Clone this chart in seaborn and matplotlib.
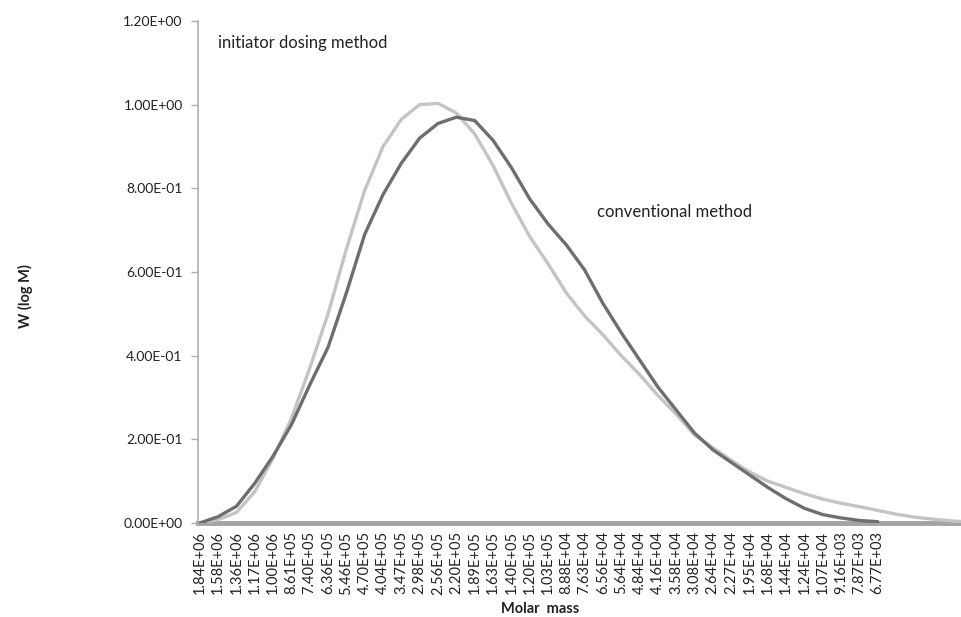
import matplotlib
matplotlib.use("Agg")
import matplotlib.pyplot as plt
import numpy as np
import pandas as pd
import seaborn as sns
from matplotlib.ticker import FuncFormatter

# category labels (molar mass, g/mol) as printed on the x axis
molar_mass = ["1.84E+06", "1.58E+06", "1.36E+06", "1.17E+06", "1.00E+06", "8.61E+05",
              "7.40E+05", "6.36E+05", "5.46E+05", "4.70E+05", "4.04E+05", "3.47E+05",
              "2.98E+05", "2.56E+05", "2.20E+05", "1.89E+05", "1.63E+05", "1.40E+05",
              "1.20E+05", "1.03E+05", "8.88E+04", "7.63E+04", "6.56E+04", "5.64E+04",
              "4.84E+04", "4.16E+04", "3.58E+04", "3.08E+04", "2.64E+04", "2.27E+04",
              "1.95E+04", "1.68E+04", "1.44E+04", "1.24E+04", "1.07E+04", "9.16E+03",
              "7.87E+03", "6.77E+03"]

conventional = [0.0, 0.015, 0.04, 0.095, 0.16, 0.235, 0.33, 0.42, 0.55, 0.69,
                0.785, 0.86, 0.92, 0.955, 0.97, 0.962, 0.915, 0.85, 0.775, 0.715,
                0.665, 0.605, 0.525, 0.455, 0.39, 0.325, 0.27, 0.215, 0.175, 0.145,
                0.115, 0.085, 0.058, 0.035, 0.02, 0.012, 0.006, 0.003]

initiator_dosing = [0.0, 0.008, 0.025, 0.075, 0.155, 0.25, 0.37, 0.50, 0.655, 0.795,
                    0.90, 0.965, 1.0, 1.003, 0.98, 0.93, 0.855, 0.765, 0.685, 0.62,
                    0.55, 0.495, 0.45, 0.40, 0.355, 0.305, 0.26, 0.21, 0.18, 0.15,
                    0.122, 0.10, 0.085, 0.07, 0.057, 0.047, 0.039, 0.030, 0.021, 0.014,
                    0.009, 0.005, 0.002]

df = pd.concat([
    pd.DataFrame({"pos": np.arange(len(conventional)), "w": conventional,
                  "method": "conventional method"}),
    pd.DataFrame({"pos": np.arange(len(initiator_dosing)), "w": initiator_dosing,
                  "method": "initiator dosing method"}),
])

sns.set_theme(style="white")
plt.rcParams["font.family"] = ["Lato", "DejaVu Sans"]

fig = plt.figure(figsize=(9.62, 6.17), dpi=100)
ax = fig.add_axes([0.2058, 0.1524, 0.7942, 0.8136])

sns.lineplot(data=df, x="pos", y="w", hue="method",
             palette={"conventional method": "#6e6e6e", "initiator dosing method": "#c4c4c4"},
             hue_order=["initiator dosing method", "conventional method"],
             linewidth=2.4, legend=False, ax=ax)
for ln in ax.lines:
    ln.set_solid_joinstyle("round")

ax.set_xlim(-0.1, 41.6)
ax.set_ylim(0, 1.2)
ax.set_xticks(np.arange(len(molar_mass)))
ax.set_xticklabels(molar_mass, rotation=90, fontsize=10.5, color="#222222")
ax.set_yticks(np.arange(0, 1.21, 0.2))
ax.yaxis.set_major_formatter(FuncFormatter(lambda v, _: f"{v:.2E}"))
ax.tick_params(axis="y", labelsize=10, labelcolor="#222222", length=5, width=1,
               color="#b0b0b0", direction="out", left=True, pad=6)
ax.tick_params(axis="x", length=0, pad=6)

for s in ["top", "right"]:
    ax.spines[s].set_visible(False)
ax.spines["left"].set_color("#b0b0b0")
ax.spines["left"].set_linewidth(1.2)
ax.spines["bottom"].set_color("#a3a3a3")
ax.spines["bottom"].set_linewidth(3.5)
ax.spines["bottom"].set_zorder(1)

ax.set_xlabel("")
ax.set_ylabel("")
fig.text(0.561, 0.013, "Molar  mass", ha="center", va="center", fontsize=10.5,
         fontweight="bold", color="#222222")
fig.text(0.026, 0.52, "W (log M)", ha="center", va="center", rotation=90,
         fontsize=10.5, fontweight="bold", color="#222222")

ax.text(1.0, 1.148, "initiator dosing method", fontsize=12, color="#222222",
        va="center", ha="left")
ax.text(21.7, 0.744, "conventional method", fontsize=12, color="#222222",
        va="center", ha="left")

fig.savefig("out.png", dpi=100)
